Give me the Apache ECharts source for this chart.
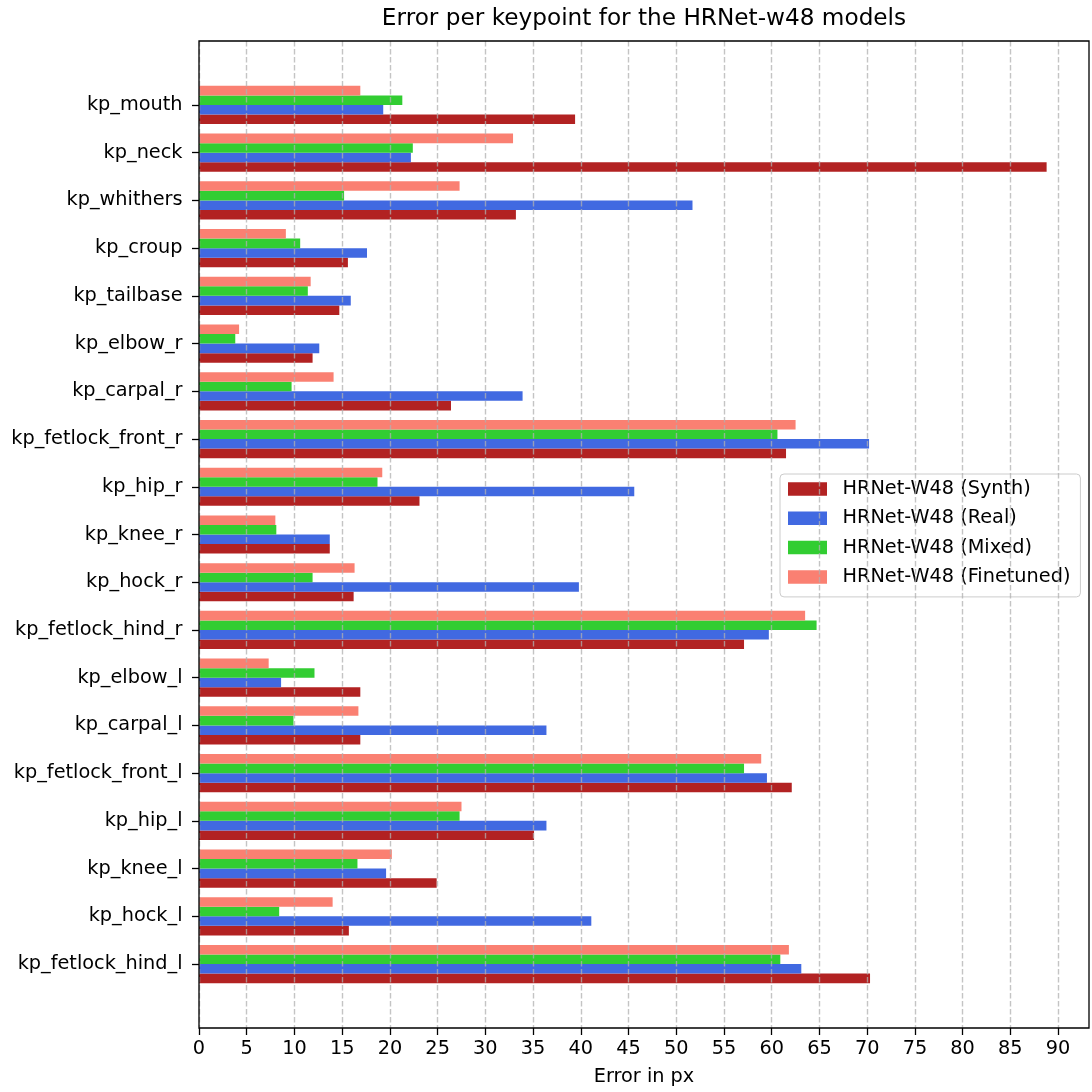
<!DOCTYPE html>
<html>
<head>
<meta charset="utf-8">
<script src="https://cdn.jsdelivr.net/npm/echarts@6/dist/echarts.min.js"></script>
<style>
  html, body { margin: 0; padding: 0; background: #fff; }
  #chart { width: 1092px; height: 1092px; }
</style>
</head>
<body>
<div id="chart"></div>
<script>
// Keypoints, listed top to bottom as drawn
const categories = [
  'kp_mouth', 'kp_neck', 'kp_whithers', 'kp_croup', 'kp_tailbase',
  'kp_elbow_r', 'kp_carpal_r', 'kp_fetlock_front_r', 'kp_hip_r', 'kp_knee_r',
  'kp_hock_r', 'kp_fetlock_hind_r', 'kp_elbow_l', 'kp_carpal_l', 'kp_fetlock_front_l',
  'kp_hip_l', 'kp_knee_l', 'kp_hock_l', 'kp_fetlock_hind_l'
];

// Mean error (px) per keypoint for each model
const synth     = [39.4, 88.8, 33.2, 15.6, 14.7, 11.9, 26.4, 61.5, 23.1, 13.7, 16.2, 57.1, 16.9, 16.9, 62.1, 35.1, 24.9, 15.7, 70.3];
const real      = [19.3, 22.2, 51.7, 17.6, 15.9, 12.6, 33.9, 70.2, 45.6, 13.7, 39.8, 59.7, 8.6, 36.4, 59.5, 36.4, 19.6, 41.1, 63.1];
const mixed     = [21.3, 22.4, 15.2, 10.6, 11.4, 3.8, 9.7, 60.6, 18.7, 8.1, 11.9, 64.7, 12.1, 9.9, 57.1, 27.3, 16.6, 8.4, 60.9];
const finetuned = [16.9, 32.9, 27.3, 9.1, 11.7, 4.2, 14.1, 62.5, 19.2, 8.0, 16.3, 63.5, 7.3, 16.7, 58.9, 27.5, 20.2, 14.0, 61.8];

const seriesNames = ['HRNet-W48 (Synth)', 'HRNet-W48 (Real)', 'HRNet-W48 (Mixed)', 'HRNet-W48 (Finetuned)'];

// X tick labels
const xTicks = [0, 5, 10, 15, 20, 25, 30, 35, 40, 45, 50, 55, 60, 65, 70, 75, 80, 85, 90];

// ---- layout / style ----
const FONT = 'DejaVu Sans';
const FS = 19.3;          // base font size
const TITLE_FS = 23.2;
const GRID = { left: 199, top: 41, width: 890, height: 987 };
const BAR_H = 0.2;
const colors = ['#B22222', '#4169E1', '#32CD32', '#FA8072'];
const offsets = [0.3, 0.1, -0.1, -0.3];   // row offsets (axis is inverted: + is downward)

const allValues = [].concat(synth, real, mixed, finetuned);
const xMax = Math.max.apply(null, allValues) * 1.05;
const yPad = (categories.length - 1 + 2 * 0.4) * 0.05 + 0.4;
const rowIdx = categories.map((_, i) => i);

function makeSeries(name, values, k) {
  return {
    name: name,
    type: 'custom',
    itemStyle: { color: colors[k] },
    encode: { x: 0, y: 1 },
    data: values.map((v, i) => [v, i]),
    renderItem: function (params, api) {
      const row = api.value(1) + offsets[k];
      const p0 = api.coord([0, row]);
      const p1 = api.coord([api.value(0), row]);
      const h = Math.abs(api.size([0, BAR_H])[1]);
      return {
        type: 'rect',
        shape: { x: p0[0], y: p0[1] - h / 2, width: p1[0] - p0[0], height: h },
        style: { fill: colors[k] }
      };
    }
  };
}

const chart = echarts.init(document.getElementById('chart'), null, { renderer: 'canvas' });

chart.setOption({
  animation: false,
  backgroundColor: '#ffffff',
  textStyle: { fontFamily: FONT },
  graphic: [{
    type: 'text',
    x: GRID.left + GRID.width / 2,
    y: 19,
    style: {
      text: 'Error per keypoint for the HRNet-w48 models',
      font: TITLE_FS + 'px "DejaVu Sans"',
      fill: '#000',
      align: 'center',
      verticalAlign: 'middle'
    }
  }],
  grid: {
    z: 20,
    left: GRID.left, top: GRID.top, width: GRID.width, height: GRID.height,
    show: true, borderColor: '#000', borderWidth: 1.3, backgroundColor: 'transparent',
    containLabel: false
  },
  legend: {
    orient: 'vertical',
    left: 780, top: 474,
    padding: [4, 10, 9, 8],
    itemGap: 7.3,
    itemWidth: 39, itemHeight: 13.5,
    icon: 'rect',
    backgroundColor: 'rgba(255,255,255,0.8)',
    borderColor: '#cccccc', borderWidth: 1, borderRadius: 4,
    textStyle: { fontFamily: FONT, fontSize: FS, color: '#000', lineHeight: 22, padding: [0, 0, 0, 10.5] },
    data: seriesNames
  },
  xAxis: {
    type: 'value',
    min: 0, max: xMax, interval: 5,
    z: 10,
    name: 'Error in px',
    nameLocation: 'middle',
    nameGap: 39,
    nameTextStyle: { fontFamily: FONT, fontSize: FS, color: '#000' },
    axisLine: { show: false, onZero: false },
    axisTick: { show: true, length: 7, lineStyle: { color: '#000', width: 1.3 }, customValues: xTicks },
    axisLabel: { fontFamily: FONT, fontSize: FS, color: '#000', margin: 11.5, customValues: xTicks },
    splitLine: { show: true, lineStyle: { color: 'rgba(176,176,176,0.75)', width: 1.4, type: [5.5, 2.5] } }
  },
  yAxis: {
    type: 'value',
    inverse: true,
    min: -yPad, max: categories.length - 1 + yPad,
    z: 10,
    axisLine: { show: false, onZero: false },
    axisTick: { show: true, length: 7, lineStyle: { color: '#000', width: 1.3 }, customValues: rowIdx },
    axisLabel: {
      fontFamily: FONT, fontSize: FS, color: '#000', margin: 16.5,
      customValues: rowIdx,
      formatter: function (v) { return categories[Math.round(v)]; }
    },
    splitLine: { show: false }
  },
  series: [
    makeSeries(seriesNames[0], synth, 0),
    makeSeries(seriesNames[1], real, 1),
    makeSeries(seriesNames[2], mixed, 2),
    makeSeries(seriesNames[3], finetuned, 3)
  ]
});
</script>
</body>
</html>
